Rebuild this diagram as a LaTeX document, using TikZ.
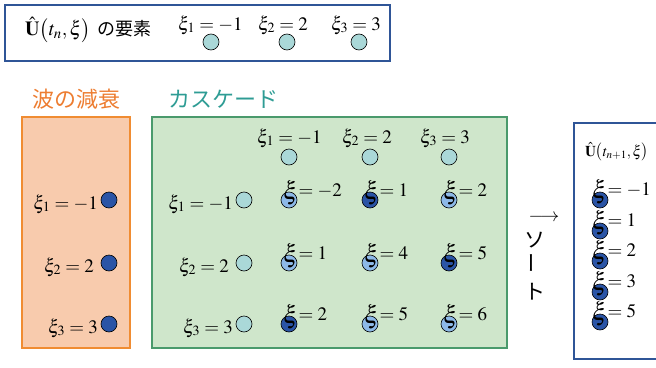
\documentclass[tikz,border=0pt]{standalone}
\IfFileExists{newtxmath.sty}{\usepackage{newtxmath}}{\usepackage{mathptmx}}
\usepackage[no-math]{fontspec}
\usepackage{graphicx}
\usepackage{tikz}
\usetikzlibrary{positioning}
\providecommand\upxi{\xi}
\newcommand\bigxi{\raisebox{-3pt}{\scalebox{1.3}{$\xi$}}}
\newfontfamily\jpfont{Noto Sans CJK JP}
\definecolor{frameblue}{HTML}{2F5597}
\definecolor{decayorange}{HTML}{F08C32}
\definecolor{decaytext}{HTML}{ED7D31}
\definecolor{decayfill}{HTML}{F8CBAD}
\definecolor{cascgreen}{HTML}{4A9A6C}
\definecolor{cascfill}{HTML}{CFE6CB}
\definecolor{casctext}{HTML}{2E9C94}
\definecolor{palecyan}{HTML}{AAD8D8}
\definecolor{midblue}{HTML}{8DB9E8}
\definecolor{deepblue}{HTML}{2A54A6}

\begin{document}
\begin{tikzpicture}[x=1pt,y=-1pt,
  dot/.style={circle,draw=black,line width=0.6pt,minimum size=16pt,inner sep=0pt},
  pale/.style={dot,fill=palecyan},
  mid/.style={dot,fill=midblue},
  deep/.style={dot,fill=deepblue},
  lab/.style={font=\fontsize{19}{21}\selectfont,inner sep=0pt},
  rlab/.style={lab,anchor=base east},
  cell/.style={lab,anchor=base west},
  jp/.style={font=\jpfont\fontsize{22}{24}\selectfont,inner sep=0pt}]
  \useasboundingbox (0,0) rectangle (656,367);

  % legend box
  \draw[frameblue,line width=2.8pt] (5,5) rectangle (390,61);
  \node[font=\fontsize{20}{22}\selectfont,inner sep=0pt,anchor=west] (title) at (25,30)
    {$\hat{\mathbf{U}}\bigl(t_n,\upxi\bigr)$ {\jpfont\fontsize{18}{20}\selectfont の要素}};
  \node[pale] (k1) at (211,42) {};
  \node[pale] (k2) at (287,42) {};
  \node[pale] (k3) at (359,42) {};
  \node[cell] (kl1) at (178,30) {$\xi_1=-1$};
  \node[cell] (kl2) at (258,30) {$\xi_2=2$};
  \node[cell] (kl3) at (331,30) {$\xi_3=3$};

  % decay
  \node[jp,text=decaytext] (decay) at (76,99) {波の減衰};
  \draw[decayorange,fill=decayfill,line width=2.8pt] (22,117) rectangle (130,348);
  \node[deep] (d1) at (109,200) {};
  \node[deep] (d2) at (109,263) {};
  \node[deep] (d3) at (109,324) {};
  \node[rlab] (dl1) at (98,209) {$\xi_1=-1$};
  \node[rlab] (dl2) at (94,272) {$\xi_2=2$};
  \node[rlab] (dl3) at (98,333) {$\xi_3=3$};

  % cascade
  \node[jp,text=casctext] (casc) at (223,99) {カスケード};
  \draw[cascgreen,fill=cascfill,line width=2.8pt] (152,117) rectangle (507,348);
  \node[pale] (c1) at (289,157) {};
  \node[pale] (c2) at (370,157) {};
  \node[pale] (c3) at (449,157) {};
  \node[cell] (cl1) at (257,143) {$\xi_1=-1$};
  \node[cell] (cl2) at (342,143) {$\xi_2=2$};
  \node[cell] (cl3) at (420,143) {$\xi_3=3$};
  \node[pale] (r1) at (244,200) {};
  \node[pale] (r2) at (244,263) {};
  \node[pale] (r3) at (244,324) {};
  \node[rlab] (rl1) at (233,209) {$\xi_1=-1$};
  \node[rlab] (rl2) at (229,272) {$\xi_2=2$};
  \node[rlab] (rl3) at (233,333) {$\xi_3=3$};

  \node[mid]  (g11) at (289,200) {};
  \node[deep] (g12) at (370,200) {};
  \node[mid]  (g13) at (449,200) {};
  \node[mid]  (g21) at (289,263) {};
  \node[mid]  (g22) at (370,263) {};
  \node[deep] (g23) at (449,263) {};
  \node[deep] (g31) at (289,324) {};
  \node[mid]  (g32) at (370,324) {};
  \node[mid]  (g33) at (449,324) {};
  \node[cell] (gl11) at (283,196) {\bigxi$=-2$};
  \node[cell] (gl12) at (364,196) {\bigxi$=1$};
  \node[cell] (gl13) at (443,196) {\bigxi$=2$};
  \node[cell] (gl21) at (283,259) {\bigxi$=1$};
  \node[cell] (gl22) at (364,259) {\bigxi$=4$};
  \node[cell] (gl23) at (443,259) {\bigxi$=5$};
  \node[cell] (gl31) at (283,320) {\bigxi$=2$};
  \node[cell] (gl32) at (364,320) {\bigxi$=5$};
  \node[cell] (gl33) at (443,320) {\bigxi$=6$};

  % sort
  \node[lab] (arrow) at (544,218) {$\longrightarrow$};
  \node[font=\jpfont\fontsize{21}{26}\selectfont,align=center,inner sep=0pt]
    (sort) at (535,266) {ソ\\\rotatebox{90}{ー}\\ト};

  % sorted result
  \draw[frameblue,line width=2.8pt] (574,123) rectangle (664,359);
  \node[font=\fontsize{15}{17}\selectfont,inner sep=0pt] (result) at (617,152)
    {$\hat{\mathbf{U}}\bigl(t_{n+1},\upxi\bigr)$};
  \node[deep] (s1) at (600,200) {};
  \node[deep] (s2) at (600,231) {};
  \node[deep] (s3) at (600,261) {};
  \node[deep] (s4) at (600,292) {};
  \node[deep] (s5) at (600,322) {};
  \node[cell] (sl1) at (592,195) {\bigxi$=-1$};
  \node[cell] (sl2) at (592,226) {\bigxi$=1$};
  \node[cell] (sl3) at (592,256) {\bigxi$=2$};
  \node[cell] (sl4) at (592,287) {\bigxi$=3$};
  \node[cell] (sl5) at (592,317) {\bigxi$=5$};
\end{tikzpicture}
\end{document}
